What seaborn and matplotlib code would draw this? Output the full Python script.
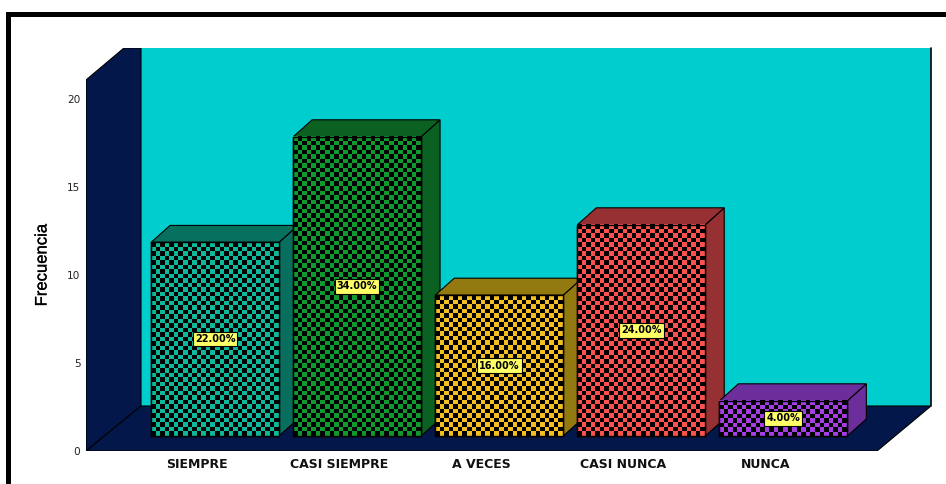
import numpy as np
import pandas as pd
import matplotlib
matplotlib.use("Agg")
import matplotlib.pyplot as plt
import matplotlib.patheffects as pe
from matplotlib.colors import ListedColormap
from matplotlib.patches import Polygon, Rectangle
import seaborn as sns

categories = ["SIEMPRE", "CASI SIEMPRE", "A VECES", "CASI NUNCA", "NUNCA"]
frequency = [11, 17, 8, 12, 2]
percent_labels = ["22.00%", "34.00%", "16.00%", "24.00%", "4.00%"]
face_colors = ["#0DB89B", "#0E9A2C", "#F2BE22", "#FF5050", "#A63EE6"]
shade_colors = ["#076F5E", "#0A6122", "#937A10", "#973032", "#6C2E9A"]

WIDTH, HEIGHT = 946, 484
NAVY, CYAN = "#04174A", "#00CDCD"

sns.set_theme(style="white")
plt.rcParams["font.family"] = ["DejaVu Sans"]

fig = plt.figure(figsize=(WIDTH / 100, HEIGHT / 100), dpi=100, facecolor="white")

# Axes span the drawn box; one value unit is 17.6 px, one category step 142.1 px.
left, right, top, bottom = 86, 931, 48, 451
ax = fig.add_axes([left / WIDTH, 1 - bottom / HEIGHT,
                   (right - left) / WIDTH, (bottom - top) / HEIGHT])
px_x, px_y = 142.1, 17.6
x0 = (left - 215) / px_x
x1 = (right - 215) / px_x
y1 = (bottom - top) / px_y
dx = lambda p: p / px_x
dy = lambda p: p / px_y

# Bars stand part-way into the floor, lifted off the front edge.
lift = dy(15)
depth_x, depth_y = dx(19), dy(17)
table = pd.DataFrame({"categoria": categories, "frecuencia": frequency})
sns.barplot(data=table, x="categoria", y="frecuencia", hue="categoria",
            palette=face_colors, legend=False, width=0.9, bottom=lift,
            edgecolor="black", linewidth=1, saturation=1, ax=ax, zorder=4)

ax.set_xlim(x0, x1)
ax.set_ylim(0, y1)

# Back wall, side wall and floor of the 3D box.
wall_x, floor_y = x0 + dx(55), dy(45)
ax.add_patch(Rectangle((wall_x, floor_y), x1 - wall_x, y1 - floor_y,
                       fc=CYAN, ec="none", zorder=1))
ax.add_patch(Polygon([(x0, 0), (wall_x, floor_y), (wall_x, y1),
                      (x0 + dx(38), y1), (x0, y1 - dy(32))],
                     fc=NAVY, ec="black", lw=0.8, zorder=2))
ax.add_patch(Polygon([(x0, 0), (x0 + dx(791), 0), (x1, floor_y), (wall_x, floor_y)],
                     fc=NAVY, ec="black", lw=0.8, zorder=2))
ax.plot([x1, x1], [floor_y, y1], color="black", lw=1.2, zorder=2, clip_on=False)

# Extruded side and top faces, checker fill and value tags on each bar.
cell = 4.5
for bar, shade, tag in zip(ax.patches[:len(categories)], shade_colors, percent_labels):
    xa, xb = bar.get_x(), bar.get_x() + bar.get_width()
    ya, yb = bar.get_y(), bar.get_y() + bar.get_height()
    ax.add_patch(Polygon([(xb, ya), (xb + depth_x, ya + depth_y),
                          (xb + depth_x, yb + depth_y), (xb, yb)],
                         fc=shade, ec="black", lw=0.8, zorder=3))
    ax.add_patch(Polygon([(xa, yb), (xb, yb), (xb + depth_x, yb + depth_y),
                          (xa + depth_x, yb + depth_y)],
                         fc=shade, ec="black", lw=0.8, zorder=3))
    cols = int(round((xb - xa) * px_x / cell))
    rows = max(int(round((yb - ya) * px_y / cell)), 1)
    grid = np.indices((rows, cols)).sum(axis=0) % 2
    cmap = ListedColormap(["black", bar.get_facecolor()])
    ax.imshow(grid, extent=(xa, xb, ya, yb), origin="lower", aspect="auto",
              cmap=cmap, vmin=0, vmax=1, interpolation="nearest", zorder=5)
    ax.add_patch(Rectangle((xa, ya), xb - xa, yb - ya, fc="none", ec="black",
                           lw=1, zorder=6))
    ax.text((xa + xb) / 2, (ya + yb) / 2, tag, ha="center", va="center",
            fontsize=7, fontweight="bold", color="black", zorder=7,
            bbox=dict(boxstyle="square,pad=0.22", fc="#FFFF66", ec="black", lw=0.8))

ax.set_xlim(x0, x1)
ax.set_ylim(0, y1)

# Category labels sit under the front edge, so they shift left of the bar centres.
ax.set_xticks(np.arange(len(categories)) - dx(18), categories,
              fontsize=9, fontweight="bold", color="#111111")
ax.set_yticks([0, 5, 10, 15, 20])
ax.tick_params(axis="x", length=0, pad=5)
ax.tick_params(axis="y", length=0, pad=4, labelsize=7.6, labelcolor="#222222")
for spine in ax.spines.values():
    spine.set_visible(False)
ax.set_xlabel("")
ax.set_ylabel("")
label = fig.text(42 / WIDTH, 1 - 265 / HEIGHT, "Frecuencia", rotation=90, ha="center",
                 va="center", fontsize=12, color="black", family=["Liberation Sans"])
label.set_path_effects([pe.withStroke(linewidth=0.2, foreground="black")])

# Heavy black frame along the top and left of the page.
fig.add_artist(Rectangle((6 / WIDTH, 1 - 17 / HEIGHT), 1 - 6 / WIDTH, 5 / HEIGHT,
                         transform=fig.transFigure, fc="black", ec="none"))
fig.add_artist(Rectangle((6 / WIDTH, 0), 5 / WIDTH, 1 - 12 / HEIGHT,
                         transform=fig.transFigure, fc="black", ec="none"))

fig.savefig("out.png", dpi=100)
